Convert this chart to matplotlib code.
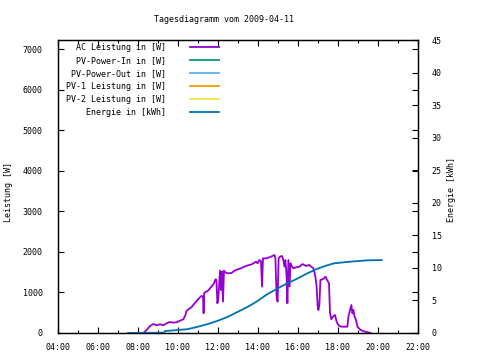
import matplotlib
matplotlib.use("Agg")
import matplotlib.pyplot as plt
from matplotlib.ticker import MultipleLocator, FixedLocator

plt.rcParams['font.family'] = ['DejaVu Sans Mono']
plt.rcParams['font.size'] = 6

title = "Tagesdiagramm vom 2009-04-11"

# time in hours of day, AC power in W
ac_hours = [7.52, 8.27, 8.43, 8.6, 8.77, 8.93, 9.1, 9.27, 9.43, 9.6, 9.77, 9.93,
            10.1, 10.27, 10.37, 10.43, 10.57, 10.67, 10.83, 11.0, 11.17, 11.25,
            11.28, 11.31, 11.33, 11.5, 11.67, 11.8, 11.87, 11.92, 11.97, 12.02,
            12.1, 12.15, 12.2, 12.25, 12.3, 12.38, 12.5, 12.67, 12.83, 13.0,
            13.17, 13.33, 13.5, 13.67, 13.83, 13.9, 13.98, 14.07, 14.15, 14.2,
            14.25, 14.4, 14.57, 14.73, 14.82, 14.87, 14.93, 14.98, 15.03, 15.1,
            15.2, 15.27, 15.32, 15.37, 15.43, 15.47, 15.52, 15.58, 15.62, 15.7,
            15.77, 15.9, 16.07, 16.23, 16.4, 16.57, 16.65, 16.77, 16.87, 16.93,
            16.98, 17.02, 17.07, 17.12, 17.2, 17.3, 17.38, 17.45, 17.55, 17.6,
            17.67, 17.75, 17.85, 17.93, 18.05, 18.2, 18.47, 18.52, 18.6, 18.67,
            18.72, 18.77, 18.83, 18.9, 18.97, 19.05, 19.13, 19.3, 19.63]
ac_power = [0, 0, 74, 173, 222, 190, 215, 190, 239, 272, 255, 264,
            305, 338, 444, 551, 601, 634, 733, 831, 913, 900,
            486, 980, 996, 1045, 1144, 1226, 1325, 1310, 733, 880,
            1539, 1060, 1520, 774, 1539, 1490, 1473, 1480, 1539, 1572,
            1600, 1638, 1671, 1690, 1737, 1761, 1720, 1802, 1770, 1144,
            1844, 1840, 1869, 1901, 1926, 1850, 896, 774, 1840, 1885,
            1900, 1800, 1638, 1800, 1400, 733, 1800, 1150, 1720, 1640,
            1597, 1620, 1638, 1700, 1654, 1679, 1640, 1597, 1391, 1150,
            691, 568, 700, 1309, 1320, 1350, 1391, 1310, 1226, 486,
            338, 400, 444, 280, 173, 156, 156, 403, 568, 691,
            485, 568, 403, 320, 156, 115, 74, 40, 0]

# energy in kWh
en_hours = [7.5, 9.3, 9.35, 10.0, 10.5, 11.0, 11.5, 12.0, 12.5, 13.0, 13.5,
            14.0, 14.4, 14.9, 15.4, 15.9, 16.4, 16.9, 17.35, 17.8, 18.3,
            18.8, 19.45, 20.18]
energy = [0, 0.05, 0.3, 0.46, 0.6, 0.97, 1.38, 1.89, 2.5, 3.27, 4.04,
          4.95, 5.84, 6.71, 7.53, 8.25, 9.06, 9.78, 10.29, 10.7, 10.86,
          11.0, 11.16, 11.2]

# series without data on this day
pv_in = []
pv_out = []
pv1 = []
pv2 = []

labels = ["AC Leistung in [W]", "PV-Power-In in [W]", "PV-Power-Out in [W]",
          "PV-1 Leistung in [W]", "PV-2 Leistung in [W]", "Energie in [kWh]"]
colors = ["#9400d3", "#009e73", "#56b4e9", "#e69f00", "#f0e442", "#0072b2"]

x_ticks = [4, 6, 8, 10, 12, 14, 16, 18, 20, 22]
x_ticklabels = ["04:00", "06:00", "08:00", "10:00", "12:00",
                "14:00", "16:00", "18:00", "20:00", "22:00"]

fig = plt.figure(figsize=(4.8, 3.6), dpi=100)
ax = fig.add_axes([58/480, 27/360, 360/480, 293/360])
ax2 = ax.twinx()

l1, = ax.plot(ac_hours, ac_power, color=colors[0], lw=1.3)
l2, = ax.plot([], pv_in, color=colors[1], lw=1.3)
l3, = ax.plot([], pv_out, color=colors[2], lw=1.3)
l4, = ax.plot([], pv1, color=colors[3], lw=1.3)
l5, = ax.plot([], pv2, color=colors[4], lw=1.3)
l6, = ax2.plot(en_hours, energy, color=colors[5], lw=1.3)

ax.set_xlim(4, 22)
ax.set_ylim(0, 7230)
ax2.set_ylim(0, 45)

ax.xaxis.set_major_locator(FixedLocator(x_ticks))
ax.set_xticklabels(x_ticklabels)
ax.xaxis.set_minor_locator(MultipleLocator(1))
ax.yaxis.set_major_locator(MultipleLocator(1000))
ax2.yaxis.set_major_locator(MultipleLocator(5))

ax.tick_params(which='both', direction='in', top=True, right=True, width=0.8)
ax.tick_params(which='major', length=4)
ax.tick_params(which='minor', length=2)
ax.tick_params(axis='y', pad=11)
ax.tick_params(axis='x', pad=7)
ax2.tick_params(direction='in', length=4, width=0.8, pad=10)

for a in (ax, ax2):
    for s in a.spines.values():
        s.set_linewidth(0.9)

fig.text(223.5/480, 1 - 19/360, title, ha='center', va='center')
fig.text(9/480, 1 - 192/360, "Leistung [W]", rotation=90, ha='center', va='center')
fig.text(452/480, 1 - 190/360, "Energie [kWh]", rotation=90, ha='center', va='center')

leg = ax.legend([l1, l2, l3, l4, l5, l6], labels, loc='upper left',
                bbox_to_anchor=(3/360, 1 + 2/293), frameon=False, markerfirst=False,
                handlelength=3.4, handletextpad=2.9, labelspacing=0.49,
                borderaxespad=0.2)

fig.savefig("out.png", dpi=100, facecolor='white')
